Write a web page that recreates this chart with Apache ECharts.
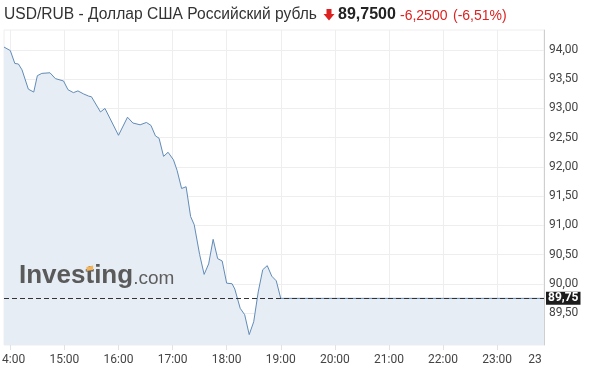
<!DOCTYPE html>
<html>
<head>
<meta charset="utf-8">
<script src="https://cdn.jsdelivr.net/npm/echarts@6/dist/echarts.min.js"></script>
<style>
html,body{margin:0;padding:0;background:#fff;}
#chart{width:590px;height:372px;}
</style>
</head>
<body>
<div id="chart"></div>
<script>
// ---- data ----
const times = ["13:53","14:00","14:05","14:09","14:13","14:20","14:26","14:30","14:35","14:44","14:50","14:59",
  "15:04","15:10","15:15","15:21","15:27","15:30","15:40","15:45","16:00","16:10","16:16","16:24","16:31","16:36",
  "16:41","16:45","16:50","16:55","17:01","17:05","17:10","17:15","17:20","17:24","17:30","17:35","17:40","17:45",
  "17:50","17:55","18:00","18:06","18:09","18:15","18:20","18:25","18:30","18:35","18:40","18:45","18:50","18:55",
  "19:00","23:52"];
const values = [94.05,93.99,93.77,93.76,93.66,93.33,93.28,93.56,93.60,93.61,93.51,93.47,
  93.32,93.27,93.30,93.25,93.21,93.20,92.94,93.00,92.54,92.85,92.75,92.72,92.76,92.71,
  92.53,92.49,92.18,92.25,92.12,91.94,91.63,91.66,91.15,91.01,90.50,90.16,90.34,90.76,
  90.43,90.39,90.01,90.00,89.91,89.58,89.47,89.13,89.35,89.86,90.24,90.31,90.13,90.05,
  89.75,89.75];
const xTickLabels = ["14:00","15:00","16:00","17:00","18:00","19:00","20:00","21:00","22:00","23:00"];
const xEdgeLabel = {time: "23:42", text: "23"};
const yTicks = [89.5,90.0,90.5,91.0,91.5,92.0,92.5,93.0,93.5,94.0];
const lastPrice = 89.75;
const titleText = "USD/RUB - Доллар США Российский рубль";
const priceText = "89,7500";
const changeText = "-6,2500";
const changePctText = "(-6,51%)";

// ---- helpers ----
const toMin = s => { const p = s.split(':'); return (+p[0]) * 60 + (+p[1]); };
const pad = n => (n < 10 ? '0' : '') + n;
const seriesData = times.map((t, i) => [toMin(t), values[i]]);
const xTickVals = xTickLabels.map(toMin);
const xLabelVals = xTickVals.concat([toMin(xEdgeLabel.time)]);
const fmtNum = v => v.toFixed(2).replace('.', ',');

// position of the "t" in the watermark for its small orange accent
const mctx = document.createElement('canvas').getContext('2d');
mctx.font = 'bold 26px "Liberation Sans"';
const tX = 19 + mctx.measureText('Inves').width;
const tW = mctx.measureText('t').width;

const chart = echarts.init(document.getElementById('chart'), null, {renderer: 'canvas'});
const RED = '#dd2222';
chart.setOption({
  animation: false,
  backgroundColor: '#ffffff',
  grid: {
    left: 4, right: 46, top: 30, bottom: 27,
    show: true, borderColor: '#eeeeee', borderWidth: 1,
    outerBoundsMode: 'none', containLabel: false
  },
  xAxis: {
    type: 'value',
    min: toMin("13:53"), max: toMin("23:52"),
    axisLine: {show: false},
    axisTick: {show: true, customValues: xTickVals, length: 5, lineStyle: {color: '#e2e2e2'}},
    splitLine: {show: true, lineStyle: {color: '#eeeeee', width: 1}},
    axisLabel: {
      customValues: xLabelVals,
      color: '#444', fontFamily: 'Roboto', fontSize: 12, margin: 9,
      formatter: v => {
        if (v === toMin(xEdgeLabel.time)) return xEdgeLabel.text;
        return Math.floor(v / 60) + ':' + pad(v % 60);
      }
    }
  },
  yAxis: {
    type: 'value',
    position: 'right',
    min: 88.952, max: 94.342,
    scale: true,
    axisLine: {show: true, lineStyle: {color: '#cfcfcf'}},
    axisTick: {show: false, customValues: yTicks},
    splitLine: {show: true, lineStyle: {color: '#eeeeee', width: 1}},
    axisLabel: {
      customValues: yTicks,
      color: '#444', fontFamily: 'Roboto', fontSize: 12, margin: 5,
      formatter: v => fmtNum(v)
    }
  },
  series: [{
    type: 'line',
    data: seriesData,
    symbol: 'none',
    lineStyle: {color: '#618cb8', width: 1},
    areaStyle: {color: '#e7edf4', opacity: 1},
    markLine: {
      silent: true,
      symbol: 'none',
      data: [{yAxis: lastPrice}],
      lineStyle: {color: '#333', type: [5, 3], width: 1},
      label: {
        show: true, position: 'end', distance: 2,
        formatter: () => fmtNum(lastPrice),
        backgroundColor: '#1c1c1c', color: '#fff',
        fontFamily: 'Roboto', fontWeight: 'bold', fontSize: 12,
        padding: [1, 2, 0, 2]
      }
    }
  }],
  graphic: [
    {type: 'text', left: 4, top: 7, style: {text: titleText, fontFamily: 'Liberation Sans', fontSize: 15.6, fill: '#333'}},
    {type: 'polygon', shape: {points: [[326.5, 9], [331.5, 9], [331.5, 14], [334.5, 14], [329, 20.5], [323.5, 14], [326.5, 14]]}, style: {fill: RED}},
    {type: 'text', left: 338, top: 7, style: {text: priceText, fontFamily: 'Liberation Sans', fontWeight: 'bold', fontSize: 16, fill: '#222'}},
    {type: 'text', left: 400, top: 9, style: {text: changeText, fontFamily: 'Liberation Sans', fontSize: 14, fill: RED}},
    {type: 'text', left: 453, top: 9, style: {text: changePctText, fontFamily: 'Liberation Sans', fontSize: 14, fill: RED}},
    {type: 'text', left: 19, top: 263, z: 50, style: {
      text: '{a|Investing}{b|.com}',
      rich: {
        a: {fontFamily: 'Liberation Sans', fontWeight: 'bold', fontSize: 26, fill: '#5a5a5a', color: '#5a5a5a'},
        b: {fontFamily: 'Liberation Sans', fontSize: 19, fill: '#5e5e5e', color: '#5e5e5e', verticalAlign: 'bottom', padding: [0, 0, 1, 0]}
      }
    }},
    {type: 'polygon', z: 51, shape: {points: [[tX + 1, 267], [tX + tW - 1, 265.5], [tX + tW - 1, 270], [tX + 1, 271]]}, style: {fill: '#f2b35a'}}
  ]
});
</script>
</body>
</html>
